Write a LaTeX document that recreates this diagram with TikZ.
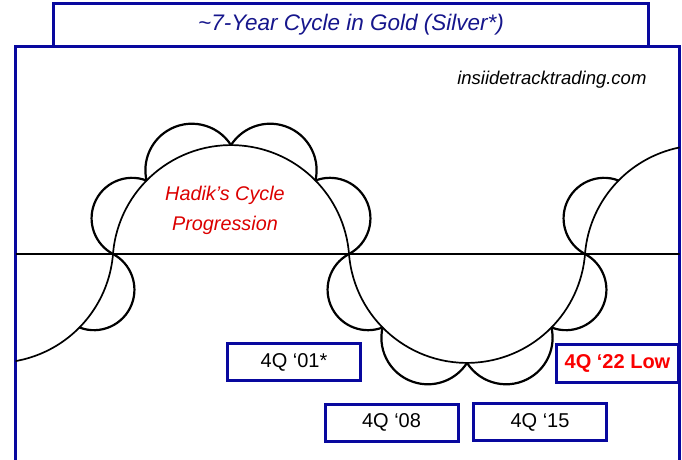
\documentclass[tikz,border=0pt]{standalone}
\usepackage{fontspec}
\setmainfont{Liberation Sans}
\definecolor{frameblue}{RGB}{8,8,158}
\definecolor{titleblue}{RGB}{22,22,140}
\definecolor{hadikred}{RGB}{220,0,0}
\definecolor{lowred}{RGB}{250,0,0}
% #1,#2 centre of big circle, #3 its radius, #4,#5 angles of the chord ends, #6 inward shift of scallop centre
\newcommand{\drawscallop}[6]{%
  \pgfmathsetmacro{\skpM}{(#4+#5)/2}%
  \pgfmathsetmacro{\skpH}{(#5-#4)/2}%
  \pgfmathsetmacro{\skpC}{#3*sin(\skpH)}%
  \pgfmathsetmacro{\skpD}{#3*cos(\skpH)-#6}%
  \pgfmathsetmacro{\skpR}{sqrt(\skpC*\skpC+#6*#6)}%
  \pgfmathsetmacro{\skpDel}{atan(#6/\skpC)}%
  \pgfmathsetmacro{\skpS}{\skpM-90+\skpDel}%
  \pgfmathsetmacro{\skpE}{\skpM+90-\skpDel}%
  \pgfmathsetmacro{\skpX}{#1+\skpD*cos(\skpM)+\skpR*cos(\skpS)}%
  \pgfmathsetmacro{\skpY}{#2+\skpD*sin(\skpM)+\skpR*sin(\skpS)}%
  \draw[scallopline] (\skpX pt,\skpY pt) arc[start angle=\skpS, end angle=\skpE, radius=\skpR pt];%
}
\begin{document}
\begin{tikzpicture}[x=1pt,y=1pt,
  frameline/.style={draw=frameblue, line width=3pt},
  titlebox/.style={draw=frameblue, line width=3pt, fill=white, inner sep=0pt, outer sep=0pt,
    minimum width=595pt, minimum height=43pt, text=titleblue,
    font=\fontsize{22.5}{26}\selectfont\itshape},
  labelbox/.style={draw=frameblue, line width=3pt, fill=white, inner sep=0pt, outer sep=0pt,
    minimum width=133pt, minimum height=37pt, font=\fontsize{20}{24}\selectfont},
  bigline/.style={line width=1.7pt},
  scallopline/.style={line width=2.2pt},
  axisline/.style={line width=1.5pt},
  webtext/.style={font=\fontsize{18.5}{22}\selectfont\itshape},
  hadiktext/.style={font=\fontsize{19.8}{30}\selectfont\itshape, text=hadikred, align=center}]
\fill[white] (0,0) rectangle (682,459);
\useasboundingbox (0,0) rectangle (682,459);

% main frame
\draw[frameline] (15.5,-5) -- (15.5,412) -- (679.5,412) -- (679.5,-5);

% cycle drawing
\begin{scope}
  \clip (15.5,0) rectangle (679.5,412);
  \draw[axisline] (15.5,205) -- (679.5,205);
  % big arcs
  \draw[bigline] (113,205) arc[start angle=355.4, end angle=250, radius=118.4pt];
  \draw[bigline] (113,205) arc[start angle=175.4, end angle=4.6, radius=118.4pt];
  \draw[bigline] (349,205) arc[start angle=184.6, end angle=355.4, radius=118.4pt];
  \draw[bigline] (585,205) arc[start angle=175.4, end angle=80, radius=118.4pt];
  % scallops
  \drawscallop{-5}{214.5}{118.4}{315.5}{355.4}{2.5}
  \drawscallop{231}{195.5}{118.4}{4.6}{44.5}{2.5}
  \drawscallop{231}{195.5}{118.4}{44.5}{90}{8}
  \drawscallop{231}{195.5}{118.4}{90}{135.5}{8}
  \drawscallop{231}{195.5}{118.4}{135.5}{175.4}{2.5}
  \drawscallop{467}{214.5}{118.4}{184.6}{224.5}{2.5}
  \drawscallop{467}{214.5}{118.4}{224.5}{270}{8}
  \drawscallop{467}{214.5}{118.4}{270}{315.5}{8}
  \drawscallop{467}{214.5}{118.4}{315.5}{355.4}{2.5}
  \drawscallop{703}{195.5}{118.4}{135.5}{175.4}{2.5}
\end{scope}

% title
\node[titlebox] (title) at (351,434) {\textasciitilde 7-Year Cycle in Gold (Silver*)};

% texts
\node[webtext, anchor=east] (web) at (650,379) {insiidetracktrading.com};
\node[hadiktext] (hadik) at (225,249) {Hadik’s Cycle\\Progression};

% label boxes
\node[labelbox] (b01) at (294,97) {4Q ‘01*};
\node[labelbox] (b08) at (391.5,36.5) {4Q ‘08};
\node[labelbox] (b15) at (540,37) {4Q ‘15};
\node[labelbox, minimum width=122pt, minimum height=38pt, text=lowred, font=\fontsize{20}{24}\selectfont\bfseries] (b22) at (617.5,95.5) {4Q ‘22 Low};
\end{tikzpicture}
\end{document}
